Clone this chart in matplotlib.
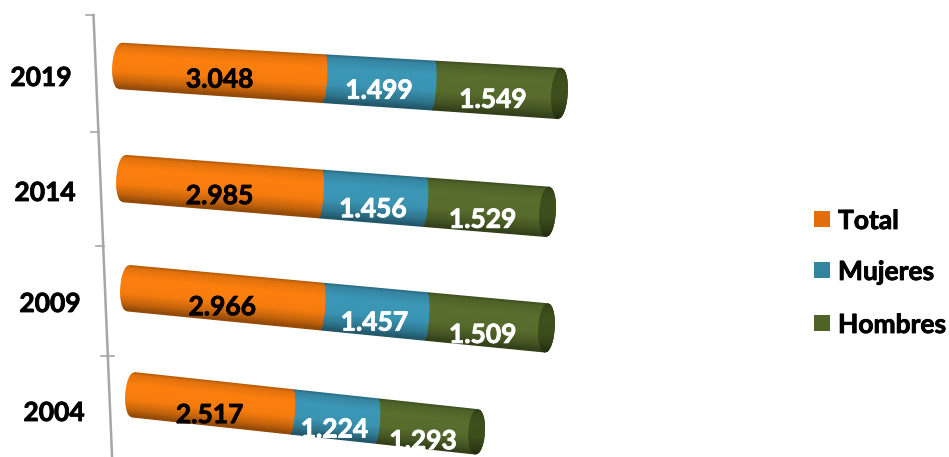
import numpy as np
import matplotlib
matplotlib.use("Agg")
import matplotlib.pyplot as plt
import matplotlib.patheffects as pe
from matplotlib.patches import Rectangle
from matplotlib.transforms import Affine2D

plt.rcParams['font.family'] = ['Lato', 'DejaVu Sans']

# Data (thousands, with the dot as written on the chart)
years = ['2019', '2014', '2009', '2004']
total = [3048, 2985, 2966, 2517]
mujeres = [1499, 1456, 1457, 1224]
hombres = [1549, 1529, 1509, 1293]
series_names = ['Total', 'Mujeres', 'Hombres']

# Styles
base_colors = ['#F67C0E', '#3A93B2', '#566B2C']
legend_colors = ['#E46C0A', '#31859C', '#4F6228']
label_colors = ['black', 'white', 'white']

# Layout of the fake 3D cylinders, in pixels
series_stretch = [0.0702, 0.0728, 0.0845]
row_zoom = [1.0, 0.985, 0.98, 0.955]
row_x0 = [113, 117, 121, 126]
row_y0 = [65.5, 178, 287.5, 394]
row_slope = [0.0626, 0.0786, 0.095, 0.108]
row_half = [22.5, 23, 22.5, 22]
row_taper = [0.11, 0.065, 0.065, 0.0]
label_drop = [7.5, 10, 10, 12]
label_shift = [(0, 0), (-2, 1), (-8, 3)]
year_pos = [(41, 78), (45, 193), (50, 304), (54, 413)]
tick_y = [15, 132, 246, 356]
CAP = 7.5
FS = 19

fig = plt.figure(figsize=(9.49, 4.57), dpi=100)
ax = fig.add_axes([0, 0, 1, 1])
ax.set_xlim(0, 949)
ax.set_ylim(457, 0)
ax.axis('off')

shade_c = [-1, -0.85, -0.4, 0.25, 0.7, 1]
shade_f = [0.72, 0.92, 1.03, 1.0, 0.8, 0.58]
bold = [pe.withStroke(linewidth=0.6, foreground='black')]
bold_white = [pe.withStroke(linewidth=0.6, foreground='white')]


def shaded(color, c, gain=1.0):
    rgb = np.array(matplotlib.colors.to_rgb(color))
    return tuple(np.clip(rgb * np.interp(c, shade_c, shade_f) * gain, 0, 1))


def edge(u, cc, bulge):
    return u + bulge * np.sqrt(np.clip(1 - cc ** 2, 0, 1))


# Axis line with its ticks
axis_x = lambda y: 93.5 + 0.042 * (y - 15)
ax.plot([axis_x(tick_y[0]), axis_x(457)], [tick_y[0], 457], color='#a6a6a6', lw=1.8, zorder=1)
for y in tick_y:
    ax.plot([axis_x(y) - 7, axis_x(y) + (6 if y == tick_y[-1] else 1)], [y, y], color='#a6a6a6', lw=1.2, zorder=1)

edges_c = np.linspace(-1, 1, 37)

for i, year in enumerate(years):
    half = row_half[i]
    # along (px), across (-1 top, 1 bottom) -> figure pixels
    tr = Affine2D.from_values(1, row_slope[i], -0.065 * half, half, row_x0[i], row_y0[i]) + ax.transData

    lengths = [v * s * row_zoom[i] for v, s in zip((total[i], mujeres[i], hombres[i]), series_stretch)]
    stops = np.concatenate([[0], np.cumsum(lengths)])
    end = stops[-1]

    def grow(u):
        return 1 + row_taper[i] * u / end

    for j in range(3):
        a, b = stops[j], stops[j + 1]
        for c0, c1 in zip(edges_c[:-1], edges_c[1:]):
            cc = np.array([c0, c1])
            if j == 0:
                left = edge(np.array([CAP, CAP]), cc, -CAP)
            else:
                left = edge(np.array([a - 2, a - 2]), cc, 3)
            if j == 2:
                right = edge(np.array([b - CAP, b - CAP]), cc, CAP)
            else:
                right = edge(np.array([b - 2, b - 2]), cc, 3)
            xs = [left[0], right[0], right[1], left[1]]
            ys = [c0 * grow(left[0]), c0 * grow(right[0]), c1 * grow(right[1]), c1 * grow(left[1])]
            col = shaded(base_colors[j], (c0 + c1) / 2)
            ax.fill(xs, ys, color=col, lw=1.0, transform=tr, zorder=2 + j)

    # dark end cap of the cylinder
    for c0, c1 in zip(edges_c[:-1], edges_c[1:]):
        cc = np.array([c0, c1])
        inner = edge(np.array([end - CAP, end - CAP]), cc, -CAP)
        outer = edge(np.array([end - CAP, end - CAP]), cc, CAP)
        col = shaded('#4A5E22', (c0 + c1) / 2, 0.82)
        ax.fill([inner[0], outer[0], outer[1], inner[1]],
                [c0 * grow(end), c0 * grow(end), c1 * grow(end), c1 * grow(end)],
                color=col, lw=1.0, transform=tr, zorder=6)

    # value labels
    for j, v in enumerate((total[i], mujeres[i], hombres[i])):
        mid = (stops[j] + stops[j + 1]) / 2 + label_shift[j][0]
        txt = f'{v / 1000:.3f}'
        ax.text(mid, (label_drop[i] + label_shift[j][1]) / half, txt, transform=tr, color=label_colors[j],
                fontsize=FS, fontweight='bold', ha='center', va='center', zorder=8,
                path_effects=bold if j == 0 else bold_white)

    ax.text(year_pos[i][0], year_pos[i][1], year, fontsize=FS, fontweight='bold',
            ha='center', va='center', color='black', path_effects=bold)

# Legend
legend_y = [219, 270, 323]
for name, col, y in zip(series_names, legend_colors, legend_y):
    ax.add_patch(Rectangle((814, y - 8), 16, 16, color=col, lw=0))
    ax.text(838, y + 2, name, fontsize=FS, fontweight='bold', ha='left', va='center',
            color='black', path_effects=bold)

fig.savefig('out.png', dpi=100)
